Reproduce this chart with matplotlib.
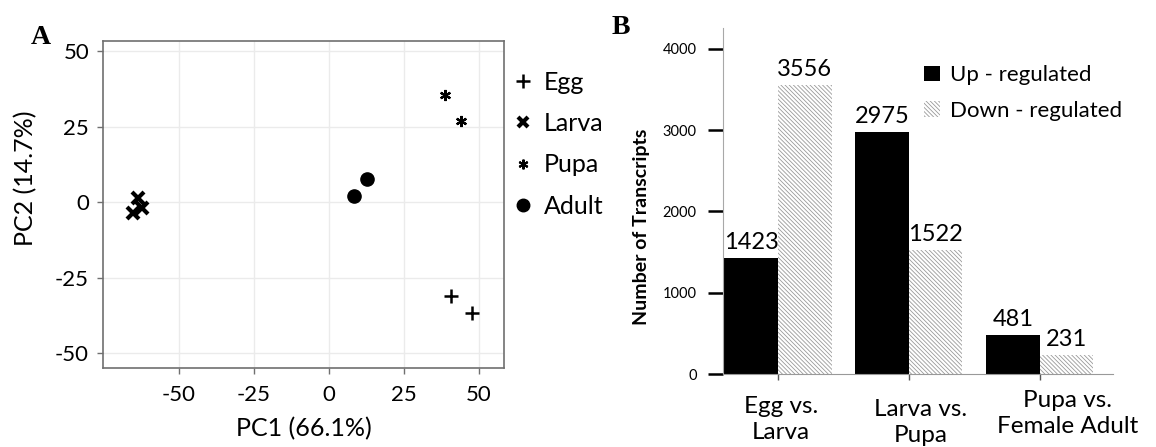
import matplotlib
matplotlib.use("Agg")
import matplotlib.pyplot as plt
import matplotlib.transforms as mtransforms
from matplotlib.lines import Line2D
from matplotlib.patches import Patch

plt.rcParams['font.family'] = ['Lato', 'DejaVu Sans']
plt.rcParams['hatch.linewidth'] = 0.6
plt.rcParams['axes.unicode_minus'] = False

# panel A: PCA scores
egg_pc1 = [40.6, 47.8]
egg_pc2 = [-30.9, -36.8]
larva_pc1 = [-63.6, -65.2, -62.4]
larva_pc2 = [1.3, -3.6, -2.0]
pupa_pc1 = [38.7, 43.9]
pupa_pc2 = [35.5, 27.0]
adult_pc1 = [8.3, 12.6]
adult_pc2 = [2.2, 7.7]
pca_ticks = [-50, -25, 0, 25, 50]

# panel B: differentially expressed transcripts
comparisons = ["Egg vs.\nLarva", "Larva vs.\nPupa", "Pupa vs.\nFemale Adult"]
up_counts = [1423, 2975, 481]
down_counts = [3556, 1522, 231]
count_ticks = [0, 1000, 2000, 3000, 4000]

W, H = 1156, 447
fig = plt.figure(figsize=(W / 100, H / 100), dpi=100)

# ---- A ----
axA = fig.add_axes([103 / W, 1 - 368 / H, 401 / W, 327 / H])
axA.plot(egg_pc1, egg_pc2, ls='none', marker='+', ms=10, mew=1.8, color='black')
axA.plot(larva_pc1, larva_pc2, ls='none', marker='x', ms=8, mew=3, color='black')
axA.plot(pupa_pc1, pupa_pc2, ls='none', marker=(6, 2, 0), ms=8, mew=1.6, color='black')
axA.plot(adult_pc1, adult_pc2, ls='none', marker='o', ms=9.5, color='black')
axA.set_xlim(-75.3, 58.3)
axA.set_ylim(-54.9, 53.4)
axA.set_xticks(pca_ticks)
axA.set_yticks(pca_ticks)
axA.grid(True, color='#ebebeb', lw=1)
axA.set_axisbelow(True)
for s in axA.spines.values():
    s.set_color('#707070')
    s.set_linewidth(1.2)
axA.tick_params(length=4, width=1, color='#707070', labelsize=16, pad=6)
axA.tick_params(axis='x', pad=8)
axA.set_xlabel("PC1 (66.1%)", fontsize=18, labelpad=9)
axA.set_ylabel("PC2 (14.7%)", fontsize=18)
axA.yaxis.set_label_coords(-0.165, 0.58)

handlesA = [
    Line2D([], [], ls='none', marker='+', ms=10, mew=1.8, color='black'),
    Line2D([], [], ls='none', marker='x', ms=7, mew=3, color='black'),
    Line2D([], [], ls='none', marker=(6, 2, 0), ms=7, mew=1.5, color='black'),
    Line2D([], [], ls='none', marker='o', ms=9, color='black'),
]
fig.legend(handlesA, ["Egg", "Larva", "Pupa", "Adult"], loc='upper left',
           bbox_to_anchor=(500 / W, 1 - 58 / H), frameon=False, fontsize=18,
           handlelength=0.8, handletextpad=0.45, labelspacing=0.74, borderpad=0)

fig.text(41 / W, 1 - 37 / H, "A", family='Liberation Serif', weight='bold',
         fontsize=20, ha='center', va='center')

# ---- B ----
axB = fig.add_axes([723 / W, 1 - 374 / H, 390 / W, 346 / H])
pos = list(range(len(comparisons)))
bw = 0.41
hatch = '\\' * 8
axB.bar([p - bw / 2 for p in pos], up_counts, width=bw, color='black', lw=0)
axB.bar([p + bw / 2 for p in pos], down_counts, width=bw, color='white',
        edgecolor='#999999', hatch=hatch, lw=0)
for p, u, d in zip(pos, up_counts, down_counts):
    axB.text(p - bw / 2, u + 60, str(u), ha='center', va='bottom', fontsize=17)
    axB.text(p + bw / 2, d + 60, str(d), ha='center', va='bottom', fontsize=17)
axB.set_xlim(-0.42, 2.56)
axB.set_ylim(0, 4258)
axB.set_yticks(count_ticks)
axB.set_xticks(pos)
axB.set_xticklabels(comparisons, fontsize=17.5, linespacing=1.3)
axB.spines['top'].set_visible(False)
axB.spines['right'].set_visible(False)
axB.spines['left'].set_color('#a8a8a8')
axB.spines['bottom'].set_color('#999999')
axB.tick_params(axis='y', length=11, width=1.8, color='black', labelsize=10.5, pad=8)
axB.tick_params(axis='x', length=4, width=1, color='#555555', pad=12)
shifts = [(3, 0), (12, -3), (28, 6)]
for lab, (dx, dy) in zip(axB.get_xticklabels(), shifts):
    lab.set_transform(lab.get_transform() + mtransforms.ScaledTranslation(dx / 100, dy / 100, fig.dpi_scale_trans))

fig.text(641 / W, 1 - 227 / H, "Number of Transcripts", rotation=90, weight='bold',
         fontsize=14, ha='center', va='center')

handlesB = [Patch(facecolor='black', lw=0),
            Patch(facecolor='white', edgecolor='#999999', hatch=hatch, lw=0)]
axB.legend(handlesB, ["Up - regulated", "Down - regulated"], loc='upper left',
           bbox_to_anchor=(913 / W, 1 - 54 / H), bbox_transform=fig.transFigure,
           frameon=False, fontsize=16, handlelength=0.7, handleheight=0.7,
           handletextpad=0.45, labelspacing=0.7, borderpad=0)

fig.text(621 / W, 1 - 27 / H, "B", family='Liberation Serif', weight='bold',
         fontsize=20, ha='center', va='center')

fig.savefig("out.png", dpi=100)
